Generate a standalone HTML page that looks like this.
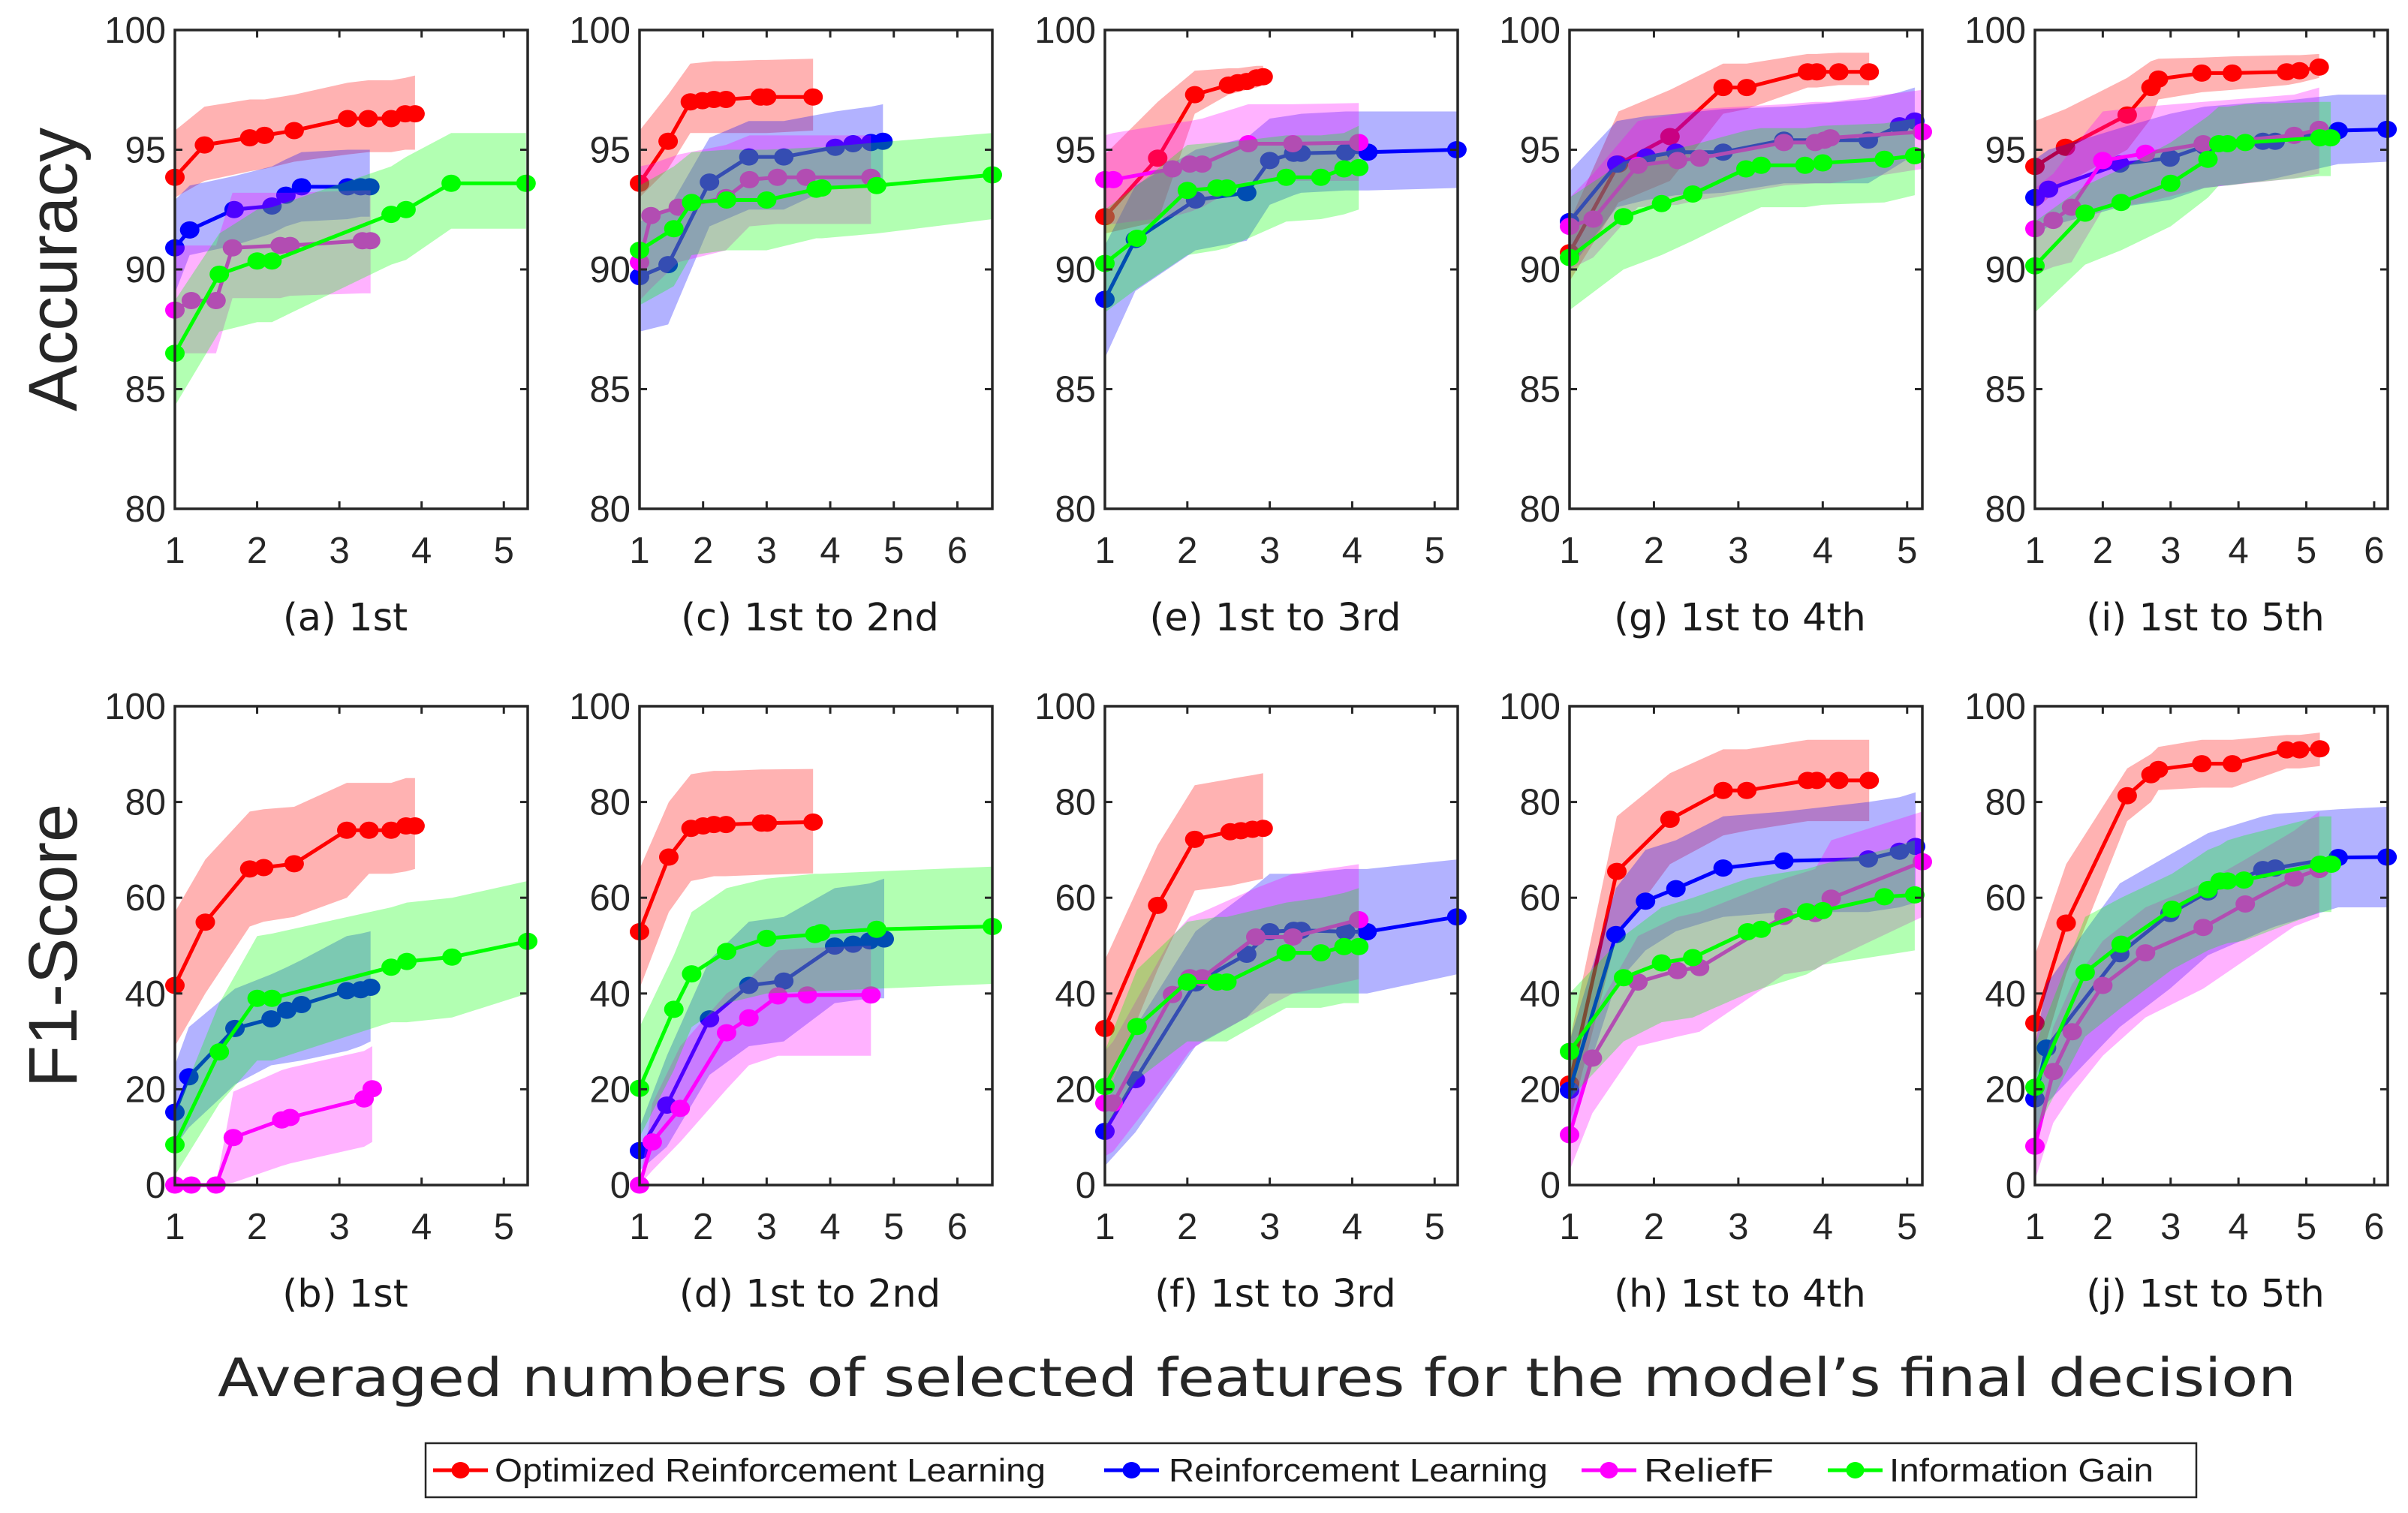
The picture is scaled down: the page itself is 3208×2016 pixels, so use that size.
<!DOCTYPE html>
<html><head><meta charset="utf-8"><title>Accuracy and F1-Score vs number of selected features</title>
<style>
html,body{margin:0;padding:0;background:#fff;}
svg{display:block;}
</style></head>
<body>
<svg id="chart" width="3208" height="2016" viewBox="0 0 3208 2016" xmlns="http://www.w3.org/2000/svg">
<rect x="0" y="0" width="3208" height="2016" fill="#ffffff"/>
<g id="panels"></g>
<text x="0" y="0" transform="translate(102,359) rotate(-90)" text-anchor="middle" font-family="Liberation Sans, sans-serif" font-size="92" fill="#262626">Accuracy</text>
<text x="0" y="0" transform="translate(102,1260) rotate(-90)" text-anchor="middle" font-family="Liberation Sans, sans-serif" font-size="92" fill="#262626">F1-Score</text>
<text x="290" y="1860" textLength="2769" lengthAdjust="spacingAndGlyphs" font-family="DejaVu Sans, sans-serif" font-size="70" fill="#262626">Averaged numbers of selected features for the model’s final decision</text>
<g id="legend">
<rect x="567" y="1923" width="2359" height="72" fill="#fff" stroke="#262626" stroke-width="2.5"/>
</g>
</svg>
<script>
// ---------- data ----------
const seriesNames = ["Optimized Reinforcement Learning","Reinforcement Learning","ReliefF","Information Gain"];
const seriesColors = ["#ff0000","#0000ff","#ff00ff","#00ff00"];
const accTicks = [80,85,90,95,100];
const f1Ticks = [0,20,40,60,80,100];
const colXMax = [5.29,6.55,5.28,5.18,6.2];
const colXTicks = [[1,2,3,4,5],[1,2,3,4,5,6],[1,2,3,4,5],[1,2,3,4,5],[1,2,3,4,5,6]];
const topCaptions = ["(a) 1st","(c) 1st to 2nd","(e) 1st to 3rd","(g) 1st to 4th","(i) 1st to 5th"];
const botCaptions = ["(b) 1st","(d) 1st to 2nd","(f) 1st to 3rd","(h) 1st to 4th","(j) 1st to 5th"];

// panel (a) accuracy
const aX = [[1,1.36,1.91,2.09,2.45,3.1,3.35,3.63,3.8,3.92],[1,1.18,1.72,2.18,2.35,2.54,3.1,3.26,3.37],[1,1.2,1.5,1.7,2.28,2.4,3.28,3.38],[1,1.54,2.0,2.18,3.63,3.81,4.36,5.27]];
const aY = [[93.85,95.2,95.5,95.6,95.8,96.3,96.3,96.3,96.5,96.5],[90.9,91.65,92.5,92.65,93.1,93.45,93.45,93.45,93.45],[88.3,88.7,88.7,90.9,91.0,91.0,91.2,91.2],[86.5,89.8,90.35,90.35,92.3,92.5,93.6,93.6]];
const aLo = [[93.0,93.7,94.1,94.2,94.5,94.8,94.9,94.9,95.0,95.0],[89.0,90.6,91.0,91.5,91.8,92.0,92.1,92.2,92.2],[86.5,86.5,86.5,88.8,88.8,88.9,89.0,89.0],[84.3,87.4,87.8,87.8,90.2,90.4,91.7,91.7]];
const aHi = [[95.8,96.8,97.1,97.1,97.3,97.8,97.9,97.9,98.0,98.1],[92.9,93.5,93.9,94.3,94.6,94.9,95.0,95.0,95.0],[91.0,91.0,91.0,93.2,93.2,93.2,93.3,93.3],[88.7,91.5,92.5,92.6,94.3,94.7,95.7,95.7]];
// panel (b) f1
const bX = [[1,1.37,1.91,2.08,2.45,3.09,3.36,3.63,3.81,3.92],[1,1.17,1.73,2.17,2.36,2.54,3.09,3.26,3.38],[1,1.2,1.5,1.71,2.3,2.4,3.3,3.4],[1,1.54,2.0,2.18,3.63,3.82,4.37,5.29]];
const bY = [[41.7,54.9,66.0,66.3,67.1,74.1,74.1,74.1,75.0,75.0],[15.2,22.6,32.7,34.7,36.5,37.7,40.6,40.8,41.3],[0,0,0,9.9,13.6,14.1,18,20.1],[8.4,27.8,39,39,45.5,46.7,47.6,50.9]];
const bLo = [[29,40,54,55,56,60,65,65,65.5,66],[8,12,21,25,25.5,26,28,29,30],[0,0,0,0.5,4,4.5,8,9],[2,17,26,26,34,34,35,40]];
const bHi = [[57,68,78,78.5,79,84,84,84,85,85],[25,33,41,44,45.5,47,52,52.5,53],[0,0,0,19.5,24,24.5,28,29],[15,38,52,52.5,58,59,60,63.5]];
// panel (c) accuracy
const cX = [[1,1.45,1.8,1.99,2.17,2.36,2.9,3.0,3.73],[1,1.45,2.1,2.72,3.27,4.08,4.36,4.64,4.83],[1,1.18,1.61,2.36,2.73,3.17,3.62,4.64],[1,1.54,1.82,2.37,3.0,3.78,3.87,4.73,6.55]];
const cY = [[93.6,95.35,97.0,97.05,97.1,97.1,97.2,97.2,97.2],[89.7,90.2,93.65,94.7,94.7,95.1,95.25,95.3,95.35],[90.3,92.25,92.6,93.0,93.75,93.85,93.85,93.85],[90.8,91.7,92.8,92.9,92.9,93.35,93.4,93.5,93.95]];
const cLo = [[93.0,94.2,95.7,95.7,95.7,95.7,95.7,95.7,95.8],[87.4,87.7,91.8,92.5,92.5,93.5,93.5,93.6,93.6],[88.7,89.2,90.3,90.8,91.8,91.9,91.9,91.9],[88.5,89.3,90.6,90.8,90.8,91.3,91.3,91.5,92.1]];
const cHi = [[95.8,97.3,98.6,98.65,98.7,98.7,98.75,98.75,98.8],[92.0,92.5,95.5,96.2,96.2,96.6,96.7,96.8,96.9],[94.3,94.4,94.8,95.2,95.6,95.6,95.6,95.6],[93.5,94.3,94.9,95.0,95.0,95.1,95.1,95.3,95.7]];
// panel (d) f1
const dX = [[1,1.46,1.81,2.0,2.17,2.36,2.92,3.01,3.73],[1,1.43,2.1,2.72,3.27,4.07,4.36,4.62,4.85],[1,1.2,1.64,2.37,2.72,3.18,3.64,4.64],[1,1.54,1.82,2.37,3.0,3.76,3.85,4.73,6.55]];
const dY = [[52.9,68.5,74.5,75,75.3,75.3,75.6,75.6,75.8],[7.2,16.7,34.7,41.7,42.6,49.9,50.3,51,51.4],[0,9,16,31.8,34.9,39.5,39.7,39.7],[20.2,36.7,44.1,48.8,51.5,52.3,52.7,53.4,54]];
const dLo = [[41,57,63.5,64,64.5,64.5,64.8,64.8,65.1],[3,8,23,29,30,38,38.5,39,39],[0,3,9,20,25,27,27,27],[10,24,33,38,40,40.5,40.5,41,42]];
const dHi = [[66,80,85.8,86.2,86.5,86.5,86.8,86.8,86.9],[12,27,47,55,56,62,62.5,63,64],[0,17,29,40,43,49,49.5,50],[33,48,57,62,64,65,65,65.5,66.5]];
// panel (e) accuracy
const eX = [[1,1.64,2.09,2.5,2.61,2.72,2.84,2.92],[1,1.37,2.1,2.72,3.0,3.29,3.38,3.92,4.19,5.27],[1,1.1,1.82,2.03,2.18,2.74,3.28,4.08],[1,1.39,2.0,2.36,2.48,3.2,3.62,3.9,4.08]];
const eY = [[92.2,94.65,97.3,97.7,97.8,97.85,98.0,98.05],[88.75,91.25,92.9,93.2,94.55,94.85,94.85,94.9,94.9,95.0],[93.75,93.75,94.2,94.4,94.4,95.25,95.25,95.3],[90.25,91.3,93.3,93.4,93.4,93.85,93.85,94.2,94.25]];
const eLo = [[91.5,92.0,96.5,97.3,97.4,97.5,97.6,97.7],[86.3,89.1,90.8,91.2,92.7,93.1,93.2,93.3,93.3,93.4],[91.9,91.9,92.2,92.4,92.6,93.7,93.7,93.7],[88.2,89.2,90.6,90.8,90.9,92.0,92.1,92.3,92.5]];
const eHi = [[94.8,97.0,98.3,98.4,98.4,98.45,98.5,98.5],[91.0,93.5,95.0,95.5,96.3,96.45,96.5,96.6,96.6,96.6],[95.6,95.7,96.1,96.2,96.3,96.9,96.9,96.95],[92.5,93.5,95.2,95.3,95.3,95.6,95.6,95.7,96.0]];
// panel (f) f1
const fX = [[1,1.64,2.09,2.52,2.65,2.79,2.92],[1,1.37,2.1,2.72,3.0,3.29,3.38,3.92,4.18,5.27],[1,1.1,1.82,2.03,2.18,2.83,3.28,4.08],[1,1.39,2.0,2.36,2.48,3.2,3.62,3.9,4.08]];
const fY = [[32.7,58.4,72.2,73.8,74,74.3,74.5],[11.2,22,42.2,48.2,52.9,53.2,53.2,52.9,52.9,56],[17.1,17.1,39.8,43.3,43.3,51.8,51.8,55.4],[20.6,33.1,42.4,42.4,42.4,48.5,48.5,49.8,49.8]];
const fLo = [[18,45,61.5,62.5,63,63.5,64],[4,11,29,35,40,40,40,40,40,44],[6,7,23,28,30,36,40,43],[12,22,30,30,30,37,37,38,38]];
const fHi = [[47,71,83.5,84.8,85.2,85.6,86],[18,33,53,61,65,65,65,66,66,68],[28,30,52,56,57,62,65,67],[28,45,55,56,56,59,60,61,62]];
// panel (g) accuracy
const gX = [[1,1.58,2.19,2.82,3.1,3.82,3.93,4.19,4.55],[1,1.56,1.91,2.26,2.82,3.54,4.54,4.91,5.09],[1,1.28,1.81,2.28,2.54,3.54,3.91,4.02,4.09,5.18],[1,1.64,2.09,2.46,3.09,3.27,3.79,4.0,4.73,5.09]];
const gY = [[90.7,94.4,95.55,97.6,97.6,98.25,98.25,98.25,98.25],[92.0,94.4,94.7,94.9,94.9,95.4,95.4,96.0,96.2],[91.8,92.1,94.35,94.55,94.65,95.3,95.3,95.4,95.5,95.75],[90.5,92.2,92.75,93.15,94.2,94.35,94.35,94.45,94.6,94.75]];
const gLo = [[89.5,92.8,93.7,96.5,96.7,97.6,97.6,97.7,97.7],[90,92.6,92.9,93.1,93.2,93.6,93.6,94.4,94.8],[90,90.5,92.6,92.7,92.9,93.5,93.6,93.6,93.6,94.2],[88.3,90,90.6,91.2,92.3,92.6,92.6,92.7,92.8,93.1]];
const gHi = [[92,96.6,97.5,98.6,98.6,99,99,99.05,99.05],[94.1,96.2,96.4,96.5,96.7,96.8,97.1,97.4,97.6],[93,94,96.2,96.5,96.7,96.9,97,97,97,97.5],[93,94.5,94.9,95.2,95.8,95.9,95.9,96,96.1,96.3]];
// panel (h) f1
const hX = [[1,1.56,2.19,2.82,3.1,3.82,3.93,4.19,4.55],[1,1.55,1.9,2.26,2.82,3.54,4.54,4.91,5.1],[1,1.27,1.81,2.28,2.54,3.54,3.91,4.1,5.18],[1,1.64,2.09,2.46,3.11,3.27,3.81,4.0,4.73,5.09]];
const hY = [[21.1,65.5,76.4,82.4,82.4,84.5,84.5,84.5,84.5],[19.8,52.3,59.3,61.9,66.2,67.7,68.1,69.7,70.7],[10.5,26.5,42.4,44.8,45.4,56.1,56.7,59.9,67.5],[27.9,43.3,46.4,47.5,52.9,53.4,57.1,57.3,60.2,60.6]];
const hLo = [[13,52,67,73,74,76,76,76,76],[12,42,49,53,56,57,57,58,59],[3,15,29,31,32,44,45,47,56],[18,30,34,35,40,41,44,46,48,49]];
const hHi = [[30,77,86,91,91,93,93,93,93],[30,62,70,72,77,78,80,81,82],[17,35,52,56,57,64,66,72,78],[40,52,58,60,64,64.5,66,67,70,72]];
// panel (i) accuracy
const iX = [[1,1.45,2.36,2.71,2.82,3.46,3.91,4.71,4.9,5.19],[1,1.2,2.25,2.99,3.5,4.36,4.54,5.47,6.19],[1,1.27,1.54,2.0,2.63,3.48,4.82,5.19],[1,1.74,2.27,3.0,3.55,3.71,3.84,4.1,5.2,5.36]];
const iY = [[94.3,95.1,96.45,97.6,97.95,98.2,98.2,98.25,98.3,98.45],[93.0,93.35,94.4,94.65,95.15,95.35,95.35,95.8,95.85],[91.7,92.05,92.6,94.55,94.85,95.25,95.6,95.85],[90.15,92.35,92.8,93.6,94.6,95.25,95.25,95.3,95.5,95.5]];
const iLo = [[92.5,93.6,95,96.3,97.1,97.4,97.5,97.7,97.8,98.0],[91.4,91.8,92.6,92.9,93.4,93.7,93.8,94.4,94.5],[89.8,90.1,90.3,92.5,92.8,93.4,93.8,94.0],[88.2,90.2,90.8,91.8,93.0,93.5,93.5,93.6,93.9,93.9]];
const iHi = [[96.2,96.7,98,98.7,98.8,98.85,98.9,98.95,98.95,99.0],[94.6,95,95.9,96.5,96.8,97.0,97.0,97.3,97.3],[93.4,94,95,96.6,96.8,97,97.3,97.6],[92,93.5,94.2,95.3,96.4,96.8,96.8,96.9,97.0,97.0]];
// panel (j) f1
const jX = [[1,1.46,2.36,2.71,2.82,3.46,3.91,4.71,4.9,5.2],[1,1.17,2.25,2.99,3.55,4.36,4.54,5.47,6.19],[1,1.27,1.55,2.0,2.63,3.48,4.1,4.82,5.19],[1,1.74,2.27,3.02,3.55,3.73,3.84,4.08,5.2,5.37]];
const jY = [[33.8,54.7,81.3,85.7,86.8,88.0,88.0,90.9,90.9,91.1],[18.0,28.6,48.3,56.7,61.2,65.9,66.2,68.4,68.5],[8.1,23.7,32,41.7,48.5,53.8,58.7,64.1,65.9],[20.4,44.4,50.3,57.6,61.7,63.5,63.5,63.7,67,67]];
const jLo = [[22,44,76,80,82.5,83,83,87,87,87.5],[8,17,33,41,48,53,54,58,58],[1,13,19,27,35,41,47,54,56],[11,31,37,45,49,50,50.5,51,57,57]];
const jHi = [[48,67,87,90,91.5,93,93,94,94,94.5],[29,42,63,69,73.5,77,77.5,78.5,79],[16,33,42,51,58,63,68,74,78],[29,56,60,65,70,71,72,73,77,77]];

const panelXs = [aX,cX,eX,gX,iX,bX,dX,fX,hX,jX];
const panelYs = [aY,cY,eY,gY,iY,bY,dY,fY,hY,jY];
const panelLos = [aLo,cLo,eLo,gLo,iLo,bLo,dLo,fLo,hLo,jLo];
const panelHis = [aHi,cHi,eHi,gHi,iHi,bHi,dHi,fHi,hHi,jHi];
const panelLetters = ["a","c","e","g","i","b","d","f","h","j"];

// ---------- layout ----------
const NS = "http://www.w3.org/2000/svg";
const colLeft = [233,852,1472,2091,2711];
const boxW = 470;
const rowTop = [40,941];
const boxH = 638;
const axisColor = "#262626";

function mk(tag, attrs, parent){
  const e = document.createElementNS(NS, tag);
  for (const k in attrs) e.setAttribute(k, attrs[k]);
  if (parent) parent.appendChild(e);
  return e;
}

const root = document.getElementById("panels");

for (let p = 0; p < 10; p++) {
  const col = p % 5, row = Math.floor(p / 5);
  const L = colLeft[col], T = rowTop[row];
  const xMax = colXMax[col];
  const yTicks = row === 0 ? accTicks : f1Ticks;
  const yMin = yTicks[0], yMax = yTicks[yTicks.length-1];
  const sx = v => L + (v - 1) / (xMax - 1) * boxW;
  const sy = v => T + (yMax - v) / (yMax - yMin) * boxH;

  const g = mk("g", {}, root);
  
  

  const clipId = "clip" + p;
  const cp = mk("clipPath", {id: clipId}, g);
  mk("rect", {x: L - 14, y: T - 14, width: boxW + 28, height: boxH + 28}, cp);
  const plot = mk("g", {"clip-path": "url(#" + clipId + ")"}, g);
  
  

  const xs = panelXs[p], ys = panelYs[p], los = panelLos[p], his = panelHis[p];
  for (let s = 0; s < 4; s++) {
    const X = xs[s], Y = ys[s], LO = los[s], HI = his[s];
    const color = seriesColors[s];
    let d = "";
    for (let k = 0; k < X.length; k++) d += (k ? "L" : "M") + sx(X[k]).toFixed(1) + "," + sy(HI[k]).toFixed(1);
    for (let k = X.length - 1; k >= 0; k--) d += "L" + sx(X[k]).toFixed(1) + "," + sy(LO[k]).toFixed(1);
    d += "Z";
    const band = mk("path", {d: d, fill: color, "fill-opacity": "0.3", stroke: "none"}, plot);
    
    
    const pts = X.map((v, k) => sx(v).toFixed(1) + "," + sy(Y[k]).toFixed(1)).join(" ");
    const line = mk("polyline", {points: pts, fill: "none", stroke: color, "stroke-width": "5", "stroke-linejoin": "round"}, plot);
    
    
    for (let k = 0; k < X.length; k++) {
      const m = mk("ellipse", {cx: sx(X[k]).toFixed(1), cy: sy(Y[k]).toFixed(1), rx: 13, ry: 11.5, fill: color}, plot);
      
      
    }
  }

  const box = mk("rect", {x: L, y: T, width: boxW, height: boxH, fill: "none", stroke: axisColor, "stroke-width": "3.5"}, g);
  
  

  yTicks.forEach(v => {
    const y = sy(v);
    mk("line", {x1: L, y1: y, x2: L + 10, y2: y, stroke: axisColor, "stroke-width": "3"}, g);
    mk("line", {x1: L + boxW, y1: y, x2: L + boxW - 10, y2: y, stroke: axisColor, "stroke-width": "3"}, g);
    const t = mk("text", {x: L - 12, y: y + 17, "text-anchor": "end", "font-family": "Liberation Sans, sans-serif", "font-size": "49", fill: axisColor}, g);
    
    
    t.textContent = String(v);
  });
  colXTicks[col].forEach(v => {
    const x = sx(v);
    mk("line", {x1: x, y1: T + boxH, x2: x, y2: T + boxH - 10, stroke: axisColor, "stroke-width": "3"}, g);
    mk("line", {x1: x, y1: T, x2: x, y2: T + 10, stroke: axisColor, "stroke-width": "3"}, g);
    const t = mk("text", {x: x, y: T + boxH + 72, "text-anchor": "middle", "font-family": "Liberation Sans, sans-serif", "font-size": "49", fill: axisColor}, g);
    
    
    t.textContent = String(v);
  });
  const cap = mk("text", {x: L + boxW / 2 - 8, y: T + boxH + 162, "text-anchor": "middle", "font-family": "DejaVu Sans, sans-serif", "font-size": "51", fill: "#1a1a1a"}, g);
  
  
  cap.textContent = row === 0 ? topCaptions[col] : botCaptions[col];
}

// ---------- legend ----------
const legend = document.getElementById("legend");
const legLineX = [577,1471,2107,2435];
const legTextX = [659,1557,2190,2517];
const legTextW = [734,505,173,352];
for (let s = 0; s < 4; s++) {
  const ent = mk("g", {}, legend);
  
  
  mk("line", {x1: legLineX[s], y1: 1959, x2: legLineX[s] + 73, y2: 1959, stroke: seriesColors[s], "stroke-width": "5"}, ent);
  mk("ellipse", {cx: legLineX[s] + 36.5, cy: 1959, rx: 12, ry: 11, fill: seriesColors[s]}, ent);
  const t = mk("text", {x: legTextX[s], y: 1974, textLength: legTextW[s], lengthAdjust: "spacingAndGlyphs", "font-family": "Liberation Sans, sans-serif", "font-size": "44", fill: "#1a1a1a"}, ent);
  t.textContent = seriesNames[s];
}
</script>
</body></html>
